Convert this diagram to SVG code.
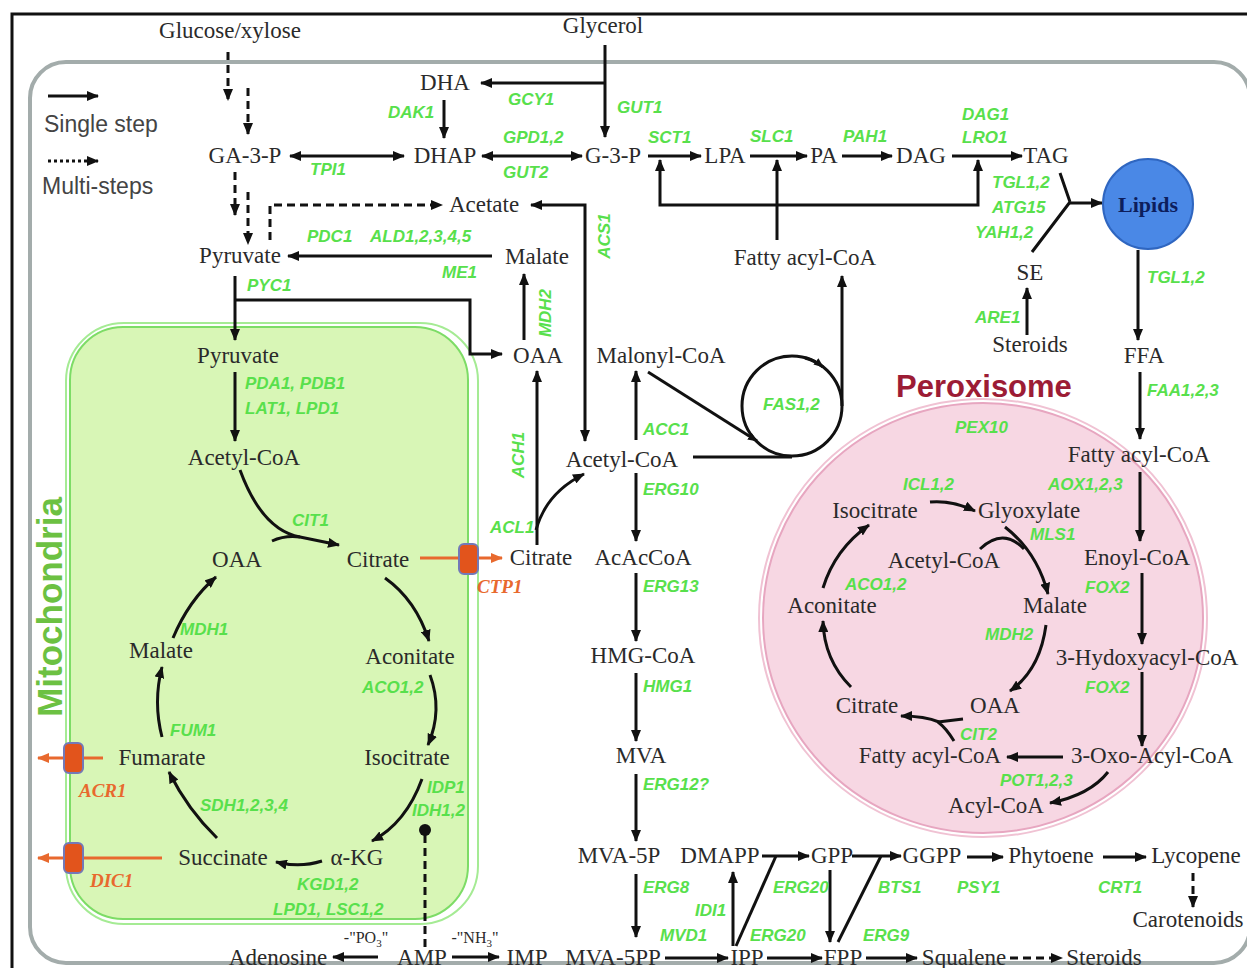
<svg xmlns="http://www.w3.org/2000/svg" width="1247" height="968" viewBox="0 0 1247 968">
<defs>
<style>
.m{font-family:"Liberation Serif","Times New Roman",serif;font-size:23px;fill:#2a2a2a;text-anchor:middle}
.e{font-family:"Liberation Sans",Arial,sans-serif;font-size:17px;font-weight:bold;font-style:italic;fill:#58e04c}
.o{font-family:"Liberation Serif","Times New Roman",serif;font-size:19px;font-weight:bold;font-style:italic;fill:#e8692e}
.lg{font-family:"Liberation Sans",Arial,sans-serif;font-size:23px;fill:#444}
.s{font-family:"Liberation Serif","Times New Roman",serif;font-size:16px;fill:#2a2a2a;text-anchor:middle}
.c{fill:none;stroke:#111;stroke-width:3}
.a{marker-end:url(#ah)}
.b{marker-start:url(#ah);marker-end:url(#ah)}
.d{stroke-dasharray:8 5}
.or{fill:none;stroke:#e8692e;stroke-width:3;marker-end:url(#aho)}
.tp{fill:#e2541c;stroke:#7379b8;stroke-width:2}
</style>
<marker id="ah" viewBox="0 0 12 10" refX="11" refY="5" markerWidth="12" markerHeight="10" markerUnits="userSpaceOnUse" orient="auto-start-reverse"><path d="M0,0 L12,5 L0,10 z" fill="#111"/></marker>
<marker id="aho" viewBox="0 0 12 10" refX="11" refY="5" markerWidth="12" markerHeight="10" markerUnits="userSpaceOnUse" orient="auto"><path d="M0,0 L12,5 L0,10 z" fill="#e8692e"/></marker>
<marker id="ahs" viewBox="0 0 10 8" refX="9" refY="4" markerWidth="10" markerHeight="8" markerUnits="userSpaceOnUse" orient="auto"><path d="M0,0 L10,4 L0,8 z" fill="#111"/></marker>
</defs>

<rect width="1247" height="968" fill="#fff"/>

<g id="compartments">
  <rect x="12" y="14" width="1260" height="980" fill="none" stroke="#111" stroke-width="3"/>
  <rect x="30" y="62" width="1220" height="901" rx="36" fill="none" stroke="#a3acab" stroke-width="4"/>
  <rect x="66" y="323" width="412" height="601" rx="58" fill="none" stroke="#a5eb94" stroke-width="2"/>
  <rect x="70" y="327" width="398" height="592" rx="53" fill="#d8f6b6" stroke="#7ddc66" stroke-width="2"/>
  <ellipse cx="983" cy="618" rx="224" ry="219" fill="none" stroke="#f0c2d3" stroke-width="2"/>
  <ellipse cx="983" cy="618" rx="220" ry="215" fill="#f7d7e3" stroke="#e7a6c0" stroke-width="2"/>
  <text x="62" y="607" transform="rotate(-90 62 607)" text-anchor="middle" font-family="'Liberation Sans',Arial,sans-serif" font-weight="bold" font-size="35" fill="#6cc142">Mitochondria</text>
  <text x="984" y="397" text-anchor="middle" font-family="'Liberation Sans',Arial,sans-serif" font-weight="bold" font-size="31" fill="#9c1c35">Peroxisome</text>
</g>

<g id="legend">
  <path class="c a" d="M48 96 H98"/>
  <text class="lg" x="44" y="132">Single step</text>
  <path class="c a" d="M48 161 H98" style="stroke-dasharray:3 3"/>
  <text class="lg" x="42" y="194">Multi-steps</text>
</g>

<g id="connectors">
  <!-- glycolysis -->
  <path class="c a d" d="M228 52 V100"/>
  <path class="c a d" d="M248 88 V134"/>
  <path class="c a d" d="M235 172 V215"/>
  <path class="c a d" d="M248 192 V244"/>
  <path class="c a d" d="M270 240 V205 H442"/>
  <!-- glycerol -->
  <path class="c a" d="M605 45 V137"/>
  <path class="c a" d="M605 83 H481"/>
  <path class="c a" d="M444 100 V138"/>
  <path class="c b" d="M290 156 H404"/>
  <path class="c b" d="M482 156 H582"/>
  <path class="c a" d="M648 156 H701"/>
  <path class="c a" d="M750 156 H807"/>
  <path class="c a" d="M842 156 H892"/>
  <path class="c a" d="M952 156 H1022"/>
  <path class="c b" d="M660 160 V205 H978 V160"/>
  <path class="c a" d="M777 240 V160"/>
  <!-- lipids -->
  <path class="c" d="M1060 173 L1070 202 M1032 252 L1070 202"/>
  <path class="c a" d="M1069 203 H1102"/>
  <path class="c a" d="M1027 335 V288"/>
  <path class="c a" d="M1138 250 V340"/>
  <!-- beta oxidation -->
  <path class="c a" d="M1140 372 V439"/>
  <path class="c a" d="M1140 472 V541"/>
  <path class="c a" d="M1142 573 V644"/>
  <path class="c a" d="M1142 672 V746"/>
  <path class="c a" d="M1063 757 H1007"/>
  <path class="c a" d="M1108 772 Q1090 795 1050 803"/>
  <path class="c" d="M963 719 L938 722 M954 741 Q946 728 938 722"/>
  <path class="c a" d="M939 722 Q925 716 901 716"/>
  <!-- glyoxylate cycle -->
  <path class="c a" d="M930 502 Q952 500 975 511"/>
  <path class="c a" d="M1005 527 Q1037 552 1048 594"/>
  <path class="c" d="M980 549 Q1003 527 1024 549"/>
  <path class="c a" d="M1046 625 Q1040 670 1010 691"/>
  <path class="c a" d="M851 687 Q824 660 823 621"/>
  <path class="c a" d="M823 588 Q835 549 869 525"/>
  <!-- cytosol -->
  <path class="c a" d="M492 256 H288"/>
  <path class="c a" d="M235 276 V340"/>
  <path class="c a" d="M235 300 H470 V354 H502"/>
  <path class="c a" d="M524 340 V274"/>
  <path class="c b" d="M531 205 H585 V441"/>
  <path class="c a" d="M537 545 V371"/>
  <path class="c a" d="M536 530 Q546 493 584 474"/>
  <!-- FAS -->
  <circle cx="792" cy="406" r="50" fill="none" stroke="#111" stroke-width="3"/>
  <path fill="none" stroke="#111" stroke-width="3" marker-end="url(#ahs)" d="M648 372 L757 441"/>
  <path fill="none" stroke="#111" stroke-width="3" marker-end="url(#ahs)" d="M805 358 A50 50 0 0 1 823 367"/>
  <path class="c" d="M693 457 H792"/>
  <path class="c a" d="M842 406 V276"/>
  <!-- mevalonate -->
  <path class="c a" d="M636 440 V371"/>
  <path class="c a" d="M636 473 V541"/>
  <path class="c a" d="M636 573 V641"/>
  <path class="c a" d="M636 673 V741"/>
  <path class="c a" d="M636 774 V841"/>
  <path class="c a" d="M636 874 V937"/>
  <path class="c a" d="M665 958 H728"/>
  <path class="c a" d="M733 946 V872"/>
  <path class="c" d="M736 946 L776 856"/>
  <path class="c a" d="M762 856 H809"/>
  <path class="c a" d="M830 870 V942"/>
  <path class="c" d="M838 942 L881 856"/>
  <path class="c a" d="M852 856 H901"/>
  <path class="c a" d="M967 857 H1003"/>
  <path class="c a" d="M1103 857 H1146"/>
  <path class="c a d" d="M1193 873 V907"/>
  <path class="c a" d="M767 958 H822"/>
  <path class="c a" d="M866 958 H917"/>
  <path class="c a d" d="M1010 958 H1062"/>
  <!-- purine -->
  <path class="c a" d="M378 957 H333"/>
  <path class="c a" d="M452 957 H499"/>
  <path class="c d" d="M425 947 V832"/>
  <circle cx="425" cy="830" r="6" fill="#111"/>
  <!-- TCA -->
  <path class="c a" d="M235 372 V441"/>
  <path class="c a" d="M240 470 Q262 530 300 537 L339 545"/>
  <path class="c" d="M272 541 Q285 535 300 537"/>
  <path class="c a" d="M385 578 Q416 600 429 641"/>
  <path class="c a" d="M430 675 Q443 710 428 745"/>
  <path class="c a" d="M422 779 Q406 823 372 841"/>
  <path class="c a" d="M322 861 Q300 868 276 862"/>
  <path class="c a" d="M217 838 Q188 810 169 772"/>
  <path class="c a" d="M162 737 Q153 702 162 667"/>
  <path class="c a" d="M173 638 Q189 600 216 577"/>
  <!-- transporters -->
  <path class="or" d="M420 558 H502"/>
  <path class="or" d="M103 758 H38"/>
  <path class="or" d="M162 858 H38"/>
  <rect class="tp" x="459" y="544" width="19" height="30" rx="5"/>
  <rect class="tp" x="64" y="743" width="19" height="30" rx="5"/>
  <rect class="tp" x="64" y="843" width="19" height="30" rx="5"/>
</g>

<g id="n-glucose"><text class="m" x="230" y="38">Glucose/xylose</text></g>
<g id="n-glycerol"><text class="m" x="603" y="33">Glycerol</text></g>
<g id="n-dha"><text class="m" x="445" y="90">DHA</text></g>
<g id="n-ga3p"><text class="m" x="245" y="163">GA-3-P</text></g>
<g id="n-dhap"><text class="m" x="445" y="163">DHAP</text></g>
<g id="n-g3p"><text class="m" x="613" y="163">G-3-P</text></g>
<g id="n-lpa"><text class="m" x="725" y="163">LPA</text></g>
<g id="n-pa"><text class="m" x="824" y="163">PA</text></g>
<g id="n-dag"><text class="m" x="921" y="163">DAG</text></g>
<g id="n-tag"><text class="m" x="1046" y="163">TAG</text></g>
<g id="n-lipids"><circle cx="1148" cy="204" r="45" fill="#4a88e6" stroke="#2f66c0" stroke-width="2"/><text x="1148" y="212" text-anchor="middle" font-family="'Liberation Serif',serif" font-weight="bold" font-size="22" fill="#0d1e5c">Lipids</text></g>
<g id="n-acetate"><text class="m" x="484" y="212">Acetate</text></g>
<g id="n-pyruvate-c"><text class="m" x="240" y="263">Pyruvate</text></g>
<g id="n-malate-c"><text class="m" x="537" y="264">Malate</text></g>
<g id="n-facoa-c"><text class="m" x="805" y="265">Fatty acyl-CoA</text></g>
<g id="n-se"><text class="m" x="1030" y="280">SE</text></g>
<g id="n-steroids-t"><text class="m" x="1030" y="352">Steroids</text></g>
<g id="n-ffa"><text class="m" x="1144" y="363">FFA</text></g>
<g id="n-pyruvate-m"><text class="m" x="238" y="363">Pyruvate</text></g>
<g id="n-oaa-c"><text class="m" x="538" y="363">OAA</text></g>
<g id="n-malonyl"><text class="m" x="661" y="363">Malonyl-CoA</text></g>
<g id="n-facoa-p1"><text class="m" x="1139" y="462">Fatty acyl-CoA</text></g>
<g id="n-accoa-m"><text class="m" x="244" y="465">Acetyl-CoA</text></g>
<g id="n-accoa-c"><text class="m" x="622" y="467">Acetyl-CoA</text></g>
<g id="n-isocit-p"><text class="m" x="875" y="518">Isocitrate</text></g>
<g id="n-glyox"><text class="m" x="1029" y="518">Glyoxylate</text></g>
<g id="n-accoa-p"><text class="m" x="944" y="568">Acetyl-CoA</text></g>
<g id="n-enoyl"><text class="m" x="1137" y="565">Enoyl-CoA</text></g>
<g id="n-oaa-m"><text class="m" x="237" y="567">OAA</text></g>
<g id="n-cit-m"><text class="m" x="378" y="567">Citrate</text></g>
<g id="n-cit-c"><text class="m" x="541" y="565">Citrate</text></g>
<g id="n-acac"><text class="m" x="643" y="565">AcAcCoA</text></g>
<g id="n-acon-p"><text class="m" x="832" y="613">Aconitate</text></g>
<g id="n-mal-p"><text class="m" x="1055" y="613">Malate</text></g>
<g id="n-mal-m"><text class="m" x="161" y="658">Malate</text></g>
<g id="n-acon-m"><text class="m" x="410" y="664">Aconitate</text></g>
<g id="n-hmg"><text class="m" x="643" y="663">HMG-CoA</text></g>
<g id="n-3hyd"><text class="m" x="1147" y="665">3-Hydoxyacyl-CoA</text></g>
<g id="n-cit-p"><text class="m" x="867" y="713">Citrate</text></g>
<g id="n-oaa-p"><text class="m" x="995" y="713">OAA</text></g>
<g id="n-fum"><text class="m" x="162" y="765">Fumarate</text></g>
<g id="n-isocit-m"><text class="m" x="407" y="765">Isocitrate</text></g>
<g id="n-mva"><text class="m" x="641" y="763">MVA</text></g>
<g id="n-facoa-p2"><text class="m" x="930" y="763">Fatty acyl-CoA</text></g>
<g id="n-3oxo"><text class="m" x="1152" y="763">3-Oxo-Acyl-CoA</text></g>
<g id="n-acylcoa"><text class="m" x="996" y="813">Acyl-CoA</text></g>
<g id="n-succ"><text class="m" x="223" y="865">Succinate</text></g>
<g id="n-akg"><text class="m" x="357" y="865">α-KG</text></g>
<g id="n-mva5p"><text class="m" x="619" y="863">MVA-5P</text></g>
<g id="n-dmapp"><text class="m" x="720" y="863">DMAPP</text></g>
<g id="n-gpp"><text class="m" x="832" y="863">GPP</text></g>
<g id="n-ggpp"><text class="m" x="932" y="863">GGPP</text></g>
<g id="n-phytoene"><text class="m" x="1051" y="863">Phytoene</text></g>
<g id="n-lycopene"><text class="m" x="1196" y="863">Lycopene</text></g>
<g id="n-carot"><text class="m" x="1188" y="927">Carotenoids</text></g>
<g id="n-adenosine"><text class="m" x="278" y="965">Adenosine</text></g>
<g id="n-amp"><text class="m" x="422" y="965">AMP</text></g>
<g id="n-imp"><text class="m" x="527" y="965">IMP</text></g>
<g id="n-mva5pp"><text class="m" x="613" y="965">MVA-5PP</text></g>
<g id="n-ipp"><text class="m" x="747" y="965">IPP</text></g>
<g id="n-fpp"><text class="m" x="843" y="965">FPP</text></g>
<g id="n-squalene"><text class="m" x="964" y="965">Squalene</text></g>
<g id="n-steroids-b"><text class="m" x="1104" y="965">Steroids</text></g>
<g id="n-po3"><text class="s" x="366" y="943">-"PO<tspan font-size="11" dy="4">3</tspan><tspan dy="-4">"</tspan></text></g>
<g id="n-nh3"><text class="s" x="475" y="943">-"NH<tspan font-size="11" dy="4">3</tspan><tspan dy="-4">"</tspan></text></g>

<g id="labels">
  <text class="e" x="310" y="175">TPI1</text>
  <text class="e" x="388" y="118">DAK1</text>
  <text class="e" x="508" y="105">GCY1</text>
  <text class="e" x="617" y="113">GUT1</text>
  <text class="e" x="503" y="143">GPD1,2</text>
  <text class="e" x="503" y="178">GUT2</text>
  <text class="e" x="648" y="143">SCT1</text>
  <text class="e" x="750" y="142">SLC1</text>
  <text class="e" x="843" y="142">PAH1</text>
  <text class="e" x="962" y="120">DAG1</text>
  <text class="e" x="962" y="143">LRO1</text>
  <text class="e" x="992" y="188">TGL1,2</text>
  <text class="e" x="992" y="213">ATG15</text>
  <text class="e" x="975" y="238">YAH1,2</text>
  <text class="e" x="1147" y="283">TGL1,2</text>
  <text class="e" x="975" y="323">ARE1</text>
  <text class="e" x="1147" y="396">FAA1,2,3</text>
  <text class="e" x="955" y="433">PEX10</text>
  <text class="e" x="903" y="490">ICL1,2</text>
  <text class="e" x="1048" y="490">AOX1,2,3</text>
  <text class="e" x="1030" y="540">MLS1</text>
  <text class="e" x="845" y="590">ACO1,2</text>
  <text class="e" x="1085" y="593">FOX2</text>
  <text class="e" x="985" y="640">MDH2</text>
  <text class="e" x="1085" y="693">FOX2</text>
  <text class="e" x="960" y="740">CIT2</text>
  <text class="e" x="1000" y="786">POT1,2,3</text>
  <text class="e" x="307" y="242">PDC1</text>
  <text class="e" x="370" y="242">ALD1,2,3,4,5</text>
  <text class="e" x="442" y="278">ME1</text>
  <text class="e" x="610" y="236" transform="rotate(-90 610 236)" text-anchor="middle">ACS1</text>
  <text class="e" x="551" y="313" transform="rotate(-90 551 313)" text-anchor="middle">MDH2</text>
  <text class="e" x="247" y="291">PYC1</text>
  <text class="e" x="245" y="389">PDA1, PDB1</text>
  <text class="e" x="245" y="414">LAT1, LPD1</text>
  <text class="e" x="292" y="526">CIT1</text>
  <text class="e" x="524" y="455" transform="rotate(-90 524 455)" text-anchor="middle">ACH1</text>
  <text class="e" x="490" y="533">ACL1</text>
  <text class="e" x="643" y="435">ACC1</text>
  <text class="e" x="763" y="410">FAS1,2</text>
  <text class="e" x="643" y="495">ERG10</text>
  <text class="e" x="643" y="592">ERG13</text>
  <text class="e" x="643" y="692">HMG1</text>
  <text class="e" x="643" y="790">ERG12?</text>
  <text class="e" x="643" y="893">ERG8</text>
  <text class="e" x="695" y="916">IDI1</text>
  <text class="e" x="660" y="941">MVD1</text>
  <text class="e" x="750" y="941">ERG20</text>
  <text class="e" x="773" y="893">ERG20</text>
  <text class="e" x="878" y="893">BTS1</text>
  <text class="e" x="957" y="893">PSY1</text>
  <text class="e" x="1098" y="893">CRT1</text>
  <text class="e" x="863" y="941">ERG9</text>
  <text class="e" x="180" y="635">MDH1</text>
  <text class="e" x="362" y="693">ACO1,2</text>
  <text class="e" x="170" y="736">FUM1</text>
  <text class="e" x="200" y="811">SDH1,2,3,4</text>
  <text class="e" x="427" y="793">IDP1</text>
  <text class="e" x="412" y="816">IDH1,2</text>
  <text class="e" x="297" y="890">KGD1,2</text>
  <text class="e" x="273" y="915">LPD1, LSC1,2</text>
  <text class="o" x="477" y="593">CTP1</text>
  <text class="o" x="79" y="797">ACR1</text>
  <text class="o" x="90" y="887">DIC1</text>
</g>
</svg>
